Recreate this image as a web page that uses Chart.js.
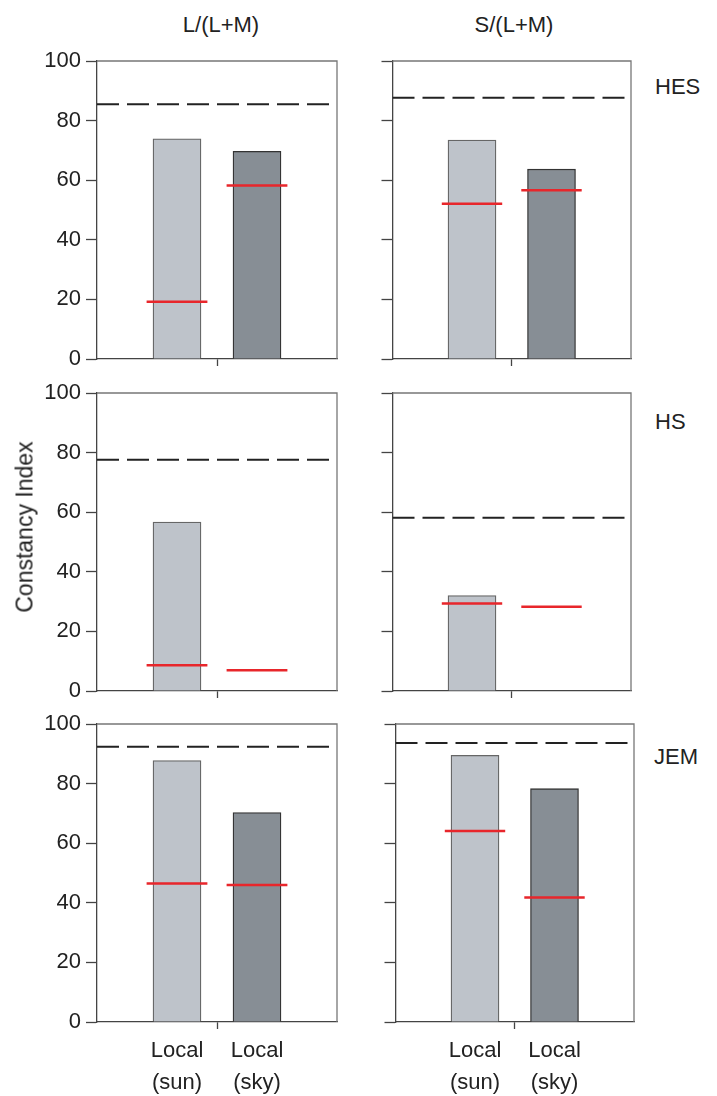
<!DOCTYPE html>
<html>
<head>
<meta charset="utf-8">
<script src="https://cdn.jsdelivr.net/npm/chart.js@4.4.1/dist/chart.umd.min.js"></script>
<style>
    body { margin: 0; background: #fff; width: 717px; height: 1096px; position: relative; overflow: hidden;
           font-family: "Liberation Sans", Arial, Helvetica, sans-serif; color: #222; }
    .panel { position: absolute; }
    .txt { position: absolute; font-size: 22px; line-height: 1; white-space: nowrap; transform: translate(-50%, -50%); }
    .row-name { position: absolute; font-size: 22px; line-height: 1; white-space: nowrap; transform: translateY(-50%); }
</style>
</head>
<body>
<div id="charts"></div>
<script>
// Labels
var rowNames = ['HES', 'HS', 'JEM'];
var colTitles = ['L/(L+M)', 'S/(L+M)'];
var categories = [['Local', '(sun)'], ['Local', '(sky)']];
var yTicks = [0, 20, 40, 60, 80, 100];

// L/(L+M) column, rows HES, HS, JEM
var lmSunBar = [73.9, 56.7, 87.7];
var lmSkyBar = [69.7, null, 70.3];
var lmSunRed = [19.2, 8.6, 46.5];
var lmSkyRed = [58.2, 7.0, 46.0];
var lmDashed = [85.5, 77.6, 92.4];

// S/(L+M) column, rows HES, HS, JEM
var sSunBar = [73.5, 32.0, 89.5];
var sSkyBar = [63.7, null, 78.3];
var sSunRed = [52.1, 29.4, 64.1];
var sSkyRed = [56.6, 28.3, 41.8];
var sDashed = [87.7, 58.1, 93.6];

var columns = [
    { sunBar: lmSunBar, skyBar: lmSkyBar, sunRed: lmSunRed, skyRed: lmSkyRed, dashed: lmDashed },
    { sunBar: sSunBar, skyBar: sSkyBar, sunRed: sSunRed, skyRed: sSkyRed, dashed: sDashed }
];

// x axis: categories sit at 1 and 2 on a 0..3 axis, center tick at 1.5
var catPos = [1, 2];
var redHalf = 0.38;

var sunFill = '#bec3ca';
var skyFill = '#878e95';
var red = '#e8262b';
var axisColor = '#444';

Chart.defaults.font.family = '"Liberation Sans", Arial, Helvetica, sans-serif';
Chart.defaults.font.size = 22;
Chart.defaults.color = '#222';

// page geometry of each panel
var plotTops = [61, 393, 724];
var plotH = 298;
var padTop = 20;            // must be >= y label overflow (~18)
var xAxisH = [10, 10, 74];
var padBottom = [10, 10, 0];
var colGeom = [
    { left: [0, 0, 0], width: 345, yAxisW: 97, padRight: 8 },
    { left: [360, 360, 362.5], width: 280, yAxisW: 32.5, padRight: 9 }
];

// top + right edges of the frame
var framePlugin = {
    id: 'frame',
    afterDraw: function (chart) {
        var a = chart.chartArea;
        var ctx = chart.ctx;
        ctx.save();
        ctx.strokeStyle = '#777';
        ctx.lineWidth = 1.3;
        ctx.beginPath();
        ctx.moveTo(a.left, a.top);
        ctx.lineTo(a.right, a.top);
        ctx.lineTo(a.right, a.bottom);
        ctx.stroke();
        ctx.restore();
    }
};

function makePanel(row, col) {
    var d = columns[col];
    var g = colGeom[col];
    var isBottom = row === 2;

    var div = document.createElement('div');
    div.className = 'panel';
    var h = padTop + plotH + xAxisH[row] + padBottom[row];
    div.style.left = g.left[row] + 'px';
    div.style.top = (plotTops[row] - padTop) + 'px';
    div.style.width = g.width + 'px';
    div.style.height = h + 'px';
    var canvas = document.createElement('canvas');
    div.appendChild(canvas);
    document.getElementById('charts').appendChild(div);

    // red segments (gap between the two)
    var redPts = [];
    [d.sunRed[row], d.skyRed[row]].forEach(function (v, i) {
        redPts.push({ x: catPos[i] - redHalf, y: v }, { x: catPos[i] + redHalf, y: v });
        if (i === 0) redPts.push({ x: 1.5, y: null });
    });

    new Chart(canvas, {
        type: 'bar',
        data: {
            datasets: [{
                type: 'line',
                data: [{ x: 0, y: d.dashed[row] }, { x: 3, y: d.dashed[row] }],
                borderColor: '#222',
                borderWidth: 2,
                borderDash: [22, 8],
                pointRadius: 0,
                order: 1
            }, {
                type: 'line',
                data: redPts,
                borderColor: red,
                borderWidth: 2.5,
                pointRadius: 0,
                spanGaps: false,
                order: 1
            }, {
                type: 'bar',
                data: [{ x: catPos[0], y: d.sunBar[row] }, { x: catPos[1], y: d.skyBar[row] }],
                backgroundColor: [sunFill, skyFill],
                borderColor: ['#666', '#333'],
                borderWidth: 1.3,
                barThickness: 48,
                order: 3
            }]
        },
        options: {
            responsive: true,
            maintainAspectRatio: false,
            animation: false,
            layout: { padding: { top: padTop, right: g.padRight, bottom: padBottom[row], left: 0 } },
            plugins: { legend: { display: false }, tooltip: { enabled: false } },
            scales: {
                x: {
                    type: 'linear',
                    min: 0,
                    max: 3,
                    offset: false,
                    afterBuildTicks: function (scale) {
                        scale.ticks = [{ value: catPos[0] }, { value: 1.5 }, { value: catPos[1] }];
                    },
                    afterFit: function (scale) { scale.height = xAxisH[row]; },
                    ticks: {
                        autoSkip: false,
                        maxRotation: 0,
                        padding: 6,
                        font: { size: 22, lineHeight: 1.45 },
                        callback: function (value) {
                            if (!isBottom) return '';
                            var i = catPos.indexOf(value);
                            return i >= 0 ? categories[i] : '';
                        }
                    },
                    grid: {
                        offset: false,
                        drawOnChartArea: false,
                        tickLength: 7,
                        tickWidth: 1.3,
                        tickColor: function (c) {
                            return c.tick && c.tick.value === 1.5 ? axisColor : 'rgba(0,0,0,0)';
                        }
                    },
                    border: { color: axisColor, width: 1.3 }
                },
                y: {
                    min: 0,
                    max: 100,
                    afterBuildTicks: function (scale) {
                        scale.ticks = yTicks.map(function (v) { return { value: v }; });
                    },
                    afterFit: function (scale) { scale.width = g.yAxisW; },
                    ticks: {
                        padding: 5,
                        color: '#222',
                        callback: function (value) { return col === 0 ? String(value) : ''; }
                    },
                    grid: { drawOnChartArea: false, tickLength: 11, tickWidth: 1.3, tickColor: axisColor },
                    border: { color: axisColor, width: 1.3 }
                }
            }
        },
        plugins: [framePlugin]
    });
}

for (var r = 0; r < rowNames.length; r++) {
    for (var c = 0; c < colTitles.length; c++) {
        makePanel(r, c);
    }
}

// texts
function addText(cls, text, x, y, extra) {
    var el = document.createElement('div');
    el.className = cls;
    el.textContent = text;
    el.style.left = x + 'px';
    el.style.top = y + 'px';
    if (extra) el.style.transform = extra;
    document.body.appendChild(el);
    return el;
}

addText('txt', colTitles[0], 221, 25);
addText('txt', colTitles[1], 514, 25);
addText('row-name', rowNames[0], 655, 87);
addText('row-name', rowNames[1], 655, 422);
addText('row-name', rowNames[2], 654, 757);
addText('txt', 'Constancy Index', 25, 527, 'translate(-50%, -50%) rotate(-90deg)').style.fontSize = '23px';
</script>
</body>
</html>
